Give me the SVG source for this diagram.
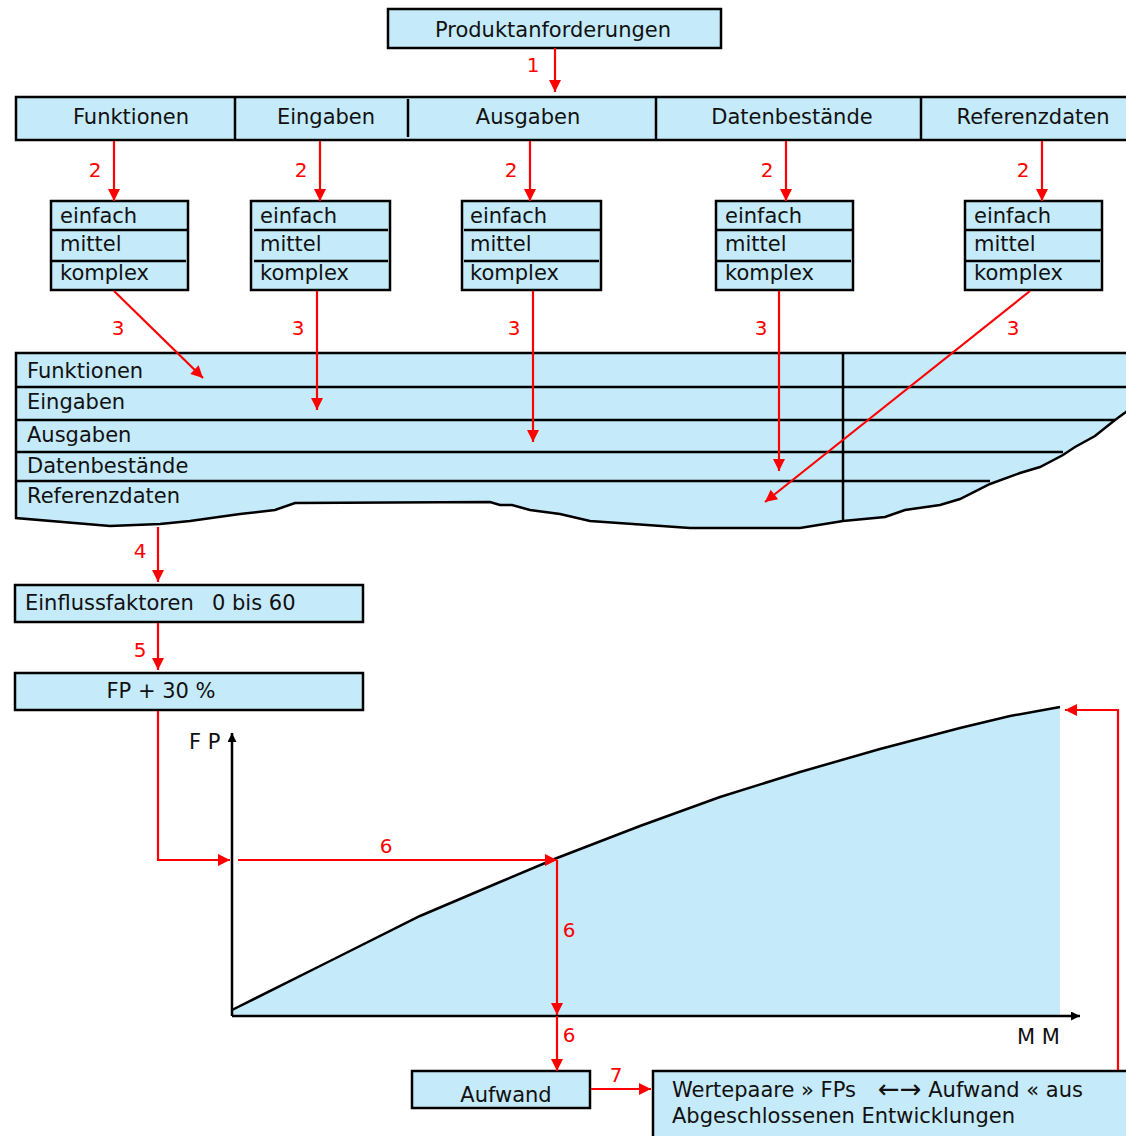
<svg xmlns="http://www.w3.org/2000/svg" width="1126" height="1136" viewBox="0 0 1126 1136">
<style>
text{font-family:"DejaVu Sans","Liberation Sans",sans-serif;font-size:21px;fill:#111}
.box{fill:#C5EAF9;stroke:#000;stroke-width:2.5}
.ln{stroke:#000;stroke-width:2.5;fill:none}
.redh{stroke:#F00;stroke-width:2.2;fill:none;marker-end:url(#ah)}
.lbl{fill:#F00;font-size:20px;text-anchor:middle}
.mid{text-anchor:middle}
</style>
<defs>
<marker id="ah" viewBox="0 0 10 10" refX="10" refY="5" markerWidth="14" markerHeight="12" markerUnits="userSpaceOnUse" orient="auto"><path d="M0,0 L10,5 L0,10 z" fill="#F00"/></marker>
<marker id="bh" viewBox="0 0 10 10" refX="10" refY="5" markerWidth="11" markerHeight="9" markerUnits="userSpaceOnUse" orient="auto"><path d="M0,0 L10,5 L0,10 z" fill="#000"/></marker>
</defs>
<g id="produkt"><rect class="box" x="388" y="9" width="333" height="39"/><text class="mid" x="553" y="37">Produktanforderungen</text></g>
<g id="kategorien">
<rect class="box" x="16" y="97" width="1120" height="43"/>
<line class="ln" x1="235" y1="97" x2="235" y2="140"/>
<line class="ln" x1="408" y1="99" x2="408" y2="137"/>
<line class="ln" x1="656" y1="97" x2="656" y2="140"/>
<line class="ln" x1="921" y1="97" x2="921" y2="140"/>
<text class="mid" x="131" y="124">Funktionen</text>
<text class="mid" x="326" y="124">Eingaben</text>
<text class="mid" x="528" y="124">Ausgaben</text>
<text class="mid" x="792" y="124">Datenbestände</text>
<text class="mid" x="1033" y="124">Referenzdaten</text>
</g>
<g id="k1"><rect class="box" x="51" y="201" width="137" height="89"/><line class="ln" x1="51" y1="230" x2="188" y2="230"/><line class="ln" x1="51" y1="261" x2="186" y2="261"/><text x="60" y="223">einfach</text><text x="60" y="251">mittel</text><text x="60" y="280">komplex</text></g>
<g id="k2"><rect class="box" x="251" y="201" width="139" height="89"/><line class="ln" x1="254" y1="230" x2="388" y2="230"/><line class="ln" x1="254" y1="261" x2="388" y2="261"/><text x="260" y="223">einfach</text><text x="260" y="251">mittel</text><text x="260" y="280">komplex</text></g>
<g id="k3"><rect class="box" x="462" y="201" width="139" height="89"/><line class="ln" x1="464" y1="230" x2="601" y2="230"/><line class="ln" x1="464" y1="261" x2="599" y2="261"/><text x="470" y="223">einfach</text><text x="470" y="251">mittel</text><text x="470" y="280">komplex</text></g>
<g id="k4"><rect class="box" x="716" y="201" width="137" height="89"/><line class="ln" x1="716" y1="230" x2="853" y2="230"/><line class="ln" x1="716" y1="261" x2="851" y2="261"/><text x="725" y="223">einfach</text><text x="725" y="251">mittel</text><text x="725" y="280">komplex</text></g>
<g id="k5"><rect class="box" x="965" y="201" width="137" height="89"/><line class="ln" x1="965" y1="230" x2="1102" y2="230"/><line class="ln" x1="965" y1="261" x2="1100" y2="261"/><text x="974" y="223">einfach</text><text x="974" y="251">mittel</text><text x="974" y="280">komplex</text></g>
<g id="tabelle">
<path fill="#C5EAF9" d="M16,353 L1130,353 L1130,409 L1126,412 L1115,420 L1095,436 L1075,447 L1063,455 L1040,467 L1020,473 L990,484 L960,499 L940,505 L905,510 L885,517 L843,521 L800,528 L690,528 L590,521 L560,514 L530,510 L512,505 L500,505 L490,502 L295,503 L275,510 L258,512 L240,514 L190,521 L160,524 L110,526 L16,518 Z"/>
<path class="ln" d="M1130,353 L16,353 L16,518 L110,526 L160,524 L190,521 L240,514 L258,512 L275,510 L295,503 L490,502 L500,505 L512,505 L530,510 L560,514 L590,521 L690,528 L800,528 L843,521 L885,517 L905,510 L940,505 L960,499 L990,484 L1020,473 L1040,467 L1063,455 L1075,447 L1095,436 L1115,420 L1126,412 L1130,409"/>
<line class="ln" x1="16" y1="387" x2="1126" y2="387"/>
<line class="ln" x1="16" y1="420" x2="1115" y2="420"/>
<line class="ln" x1="16" y1="452" x2="1063" y2="452"/>
<line class="ln" x1="16" y1="481" x2="990" y2="481"/>
<line class="ln" x1="843" y1="353" x2="843" y2="521"/>
<text x="27" y="378">Funktionen</text>
<text x="27" y="409">Eingaben</text>
<text x="27" y="442">Ausgaben</text>
<text x="27" y="473">Datenbestände</text>
<text x="27" y="503">Referenzdaten</text>
</g>
<g id="einfluss"><rect class="box" x="15" y="585" width="348" height="37"/><text x="25" y="610" xml:space="preserve">Einflussfaktoren  <tspan x="212">0 bis 60</tspan></text></g>
<g id="fp"><rect class="box" x="15" y="673" width="348" height="37"/><text class="mid" x="161" y="698">FP + 30 %</text></g>
<g id="diagramm">
<path fill="#C5EAF9" d="M232,1010 L330,961 L420,916 L500,882 L557,858 L640,826 L720,797 L800,772 L880,749 L960,728 L1010,716 L1060,707 L1060,1016 L232,1016 Z"/>
<path class="ln" d="M232,1010 L330,961 L420,916 L500,882 L557,858 L640,826 L720,797 L800,772 L880,749 L960,728 L1010,716 L1060,707"/>
<line x1="232" y1="1016" x2="232" y2="733" stroke="#000" stroke-width="2.5" marker-end="url(#bh)"/>
<line x1="232" y1="1016" x2="1080" y2="1016" stroke="#000" stroke-width="2.5" marker-end="url(#bh)"/>
<text x="189" y="749" font-size="20">F P</text>
<text x="1017" y="1044" font-size="20">M M</text>
</g>
<g id="aufwand"><rect class="box" x="412" y="1071" width="178" height="37"/><text class="mid" x="506" y="1102">Aufwand</text></g>
<g id="wertepaare"><rect class="box" x="653" y="1071" width="490" height="80"/><text x="672" y="1097" xml:space="preserve">Wertepaare » FPs  <tspan x="878" font-size="26" dy="1">←→</tspan><tspan dy="-1"> Aufwand « aus</tspan></text><text x="672" y="1123">Abgeschlossenen Entwicklungen</text></g>
<g id="connectors">
<line class="redh" x1="555" y1="48" x2="555" y2="92"/>
<line class="redh" x1="114" y1="141" x2="114" y2="201"/>
<line class="redh" x1="320" y1="141" x2="320" y2="201"/>
<line class="redh" x1="530" y1="141" x2="530" y2="201"/>
<line class="redh" x1="786" y1="141" x2="786" y2="201"/>
<line class="redh" x1="1042" y1="141" x2="1042" y2="201"/>
<line class="redh" x1="114" y1="291" x2="203" y2="378"/>
<line class="redh" x1="317" y1="291" x2="317" y2="410"/>
<line class="redh" x1="533" y1="291" x2="533" y2="442"/>
<line class="redh" x1="779" y1="291" x2="779" y2="471"/>
<line class="redh" x1="1030" y1="291" x2="765" y2="502"/>
<line class="redh" x1="158" y1="527" x2="158" y2="582"/>
<line class="redh" x1="158" y1="623" x2="158" y2="670"/>
<path class="redh" d="M158,711 V860 H230"/>
<line class="redh" x1="238" y1="860" x2="557" y2="860"/>
<line class="redh" x1="557" y1="860" x2="557" y2="1015"/>
<line class="redh" x1="557" y1="1016" x2="557" y2="1071"/>
<line class="redh" x1="591" y1="1089" x2="651" y2="1089"/>
<path class="redh" d="M1118,1070 V710 H1065"/>
<text class="lbl" x="533" y="72">1</text>
<text class="lbl" x="95" y="177">2</text>
<text class="lbl" x="301" y="177">2</text>
<text class="lbl" x="511" y="177">2</text>
<text class="lbl" x="767" y="177">2</text>
<text class="lbl" x="1023" y="177">2</text>
<text class="lbl" x="118" y="335">3</text>
<text class="lbl" x="298" y="335">3</text>
<text class="lbl" x="514" y="335">3</text>
<text class="lbl" x="761" y="335">3</text>
<text class="lbl" x="1013" y="335">3</text>
<text class="lbl" x="140" y="558">4</text>
<text class="lbl" x="140" y="657">5</text>
<text class="lbl" x="386" y="853">6</text>
<text class="lbl" x="569" y="937">6</text>
<text class="lbl" x="569" y="1042">6</text>
<text class="lbl" x="616" y="1082">7</text>
</g>
</svg>
